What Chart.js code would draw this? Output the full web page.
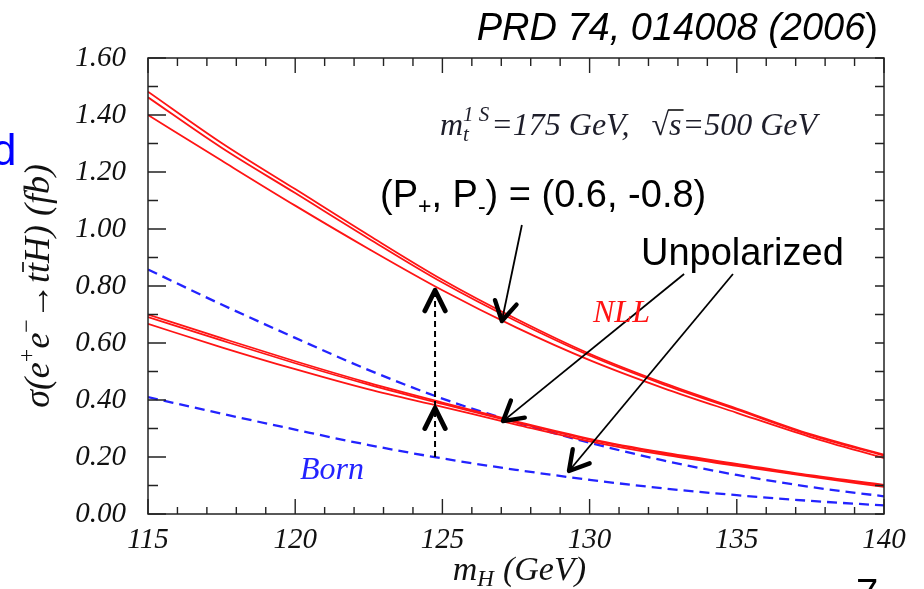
<!DOCTYPE html>
<html><head><meta charset="utf-8">
<script src="https://cdn.jsdelivr.net/npm/chart.js@4.4.1/dist/chart.umd.min.js"></script>
<style>html,body{margin:0;padding:0;background:#fff;overflow:hidden}#wrap{width:924px;height:589px;position:relative}</style>
</head><body><div id="wrap"><canvas id="c" width="924" height="589"></canvas></div>
<script>
// Higgs mass (GeV)
const massH = [115, 117.5, 120, 122.5, 125, 127.5, 130, 132.5, 135, 137.5, 140];
// NLL, polarized beams (P+,P-)=(0.6,-0.8): three curves (fb)
const nllPolA = [1.482, 1.302, 1.140, 0.978, 0.822, 0.685, 0.562, 0.460, 0.370, 0.280, 0.208];
const nllPolB = [1.462, 1.285, 1.126, 0.966, 0.812, 0.677, 0.556, 0.455, 0.366, 0.277, 0.205];
const nllPolC = [1.400, 1.240, 1.082, 0.930, 0.785, 0.655, 0.540, 0.442, 0.355, 0.270, 0.196];
// NLL, unpolarized: three curves (fb)
const nllUnpA = [0.700, 0.617, 0.536, 0.460, 0.391, 0.325, 0.264, 0.216, 0.176, 0.136, 0.102];
const nllUnpB = [0.691, 0.609, 0.529, 0.454, 0.386, 0.321, 0.261, 0.213, 0.173, 0.134, 0.100];
const nllUnpC = [0.667, 0.585, 0.508, 0.437, 0.376, 0.314, 0.255, 0.208, 0.169, 0.131, 0.095];
// Born, polarized and unpolarized (fb)
const bornPol = [0.858, 0.735, 0.618, 0.505, 0.405, 0.322, 0.250, 0.188, 0.137, 0.095, 0.062];
const bornUnp = [0.410, 0.352, 0.296, 0.242, 0.195, 0.155, 0.120, 0.090, 0.066, 0.046, 0.030];
// axis ticks
const xTickStep = 5, xMinorStep = 1, yTickStep = 0.2, yMinorStep = 0.1;

// annotation anchor points (data units)
const arrowsData = [
  {from: [127.70, 1.014], to: [127.02, 0.677]},
  {from: [133.21, 0.842], to: [127.06, 0.326]},
  {from: [134.87, 0.842], to: [129.30, 0.151]}
];
const shiftArrow = {m: 124.75, from: 0.20, mid: 0.372, to: 0.785};

const RED = '#ff1414', BLUE = '#2323ff';
const SERIF = "'Liberation Serif', 'Times New Roman', serif";
const SANS = "'Liberation Sans', Arial, sans-serif";

function pts(arr) { return massH.map((m, i) => ({x: m, y: arr[i]})); }
function redSet(label, arr) { return {label, data: pts(arr), borderColor: RED, borderWidth: 1.8, fill: false}; }
function blueSet(label, arr) { return {label, data: pts(arr), borderColor: BLUE, borderWidth: 2.3, borderDash: [10, 6], fill: false}; }

function drawRich(ctx, x, y, parts, align) {
  let total = 0;
  parts.forEach(p => { ctx.font = p.font; p.w = ctx.measureText(p.t).width; total += p.w + (p.gap || 0); });
  let cx = align === 'center' ? x - total / 2 : (align === 'right' ? x - total : x);
  parts.forEach(p => {
    ctx.font = p.font;
    ctx.fillStyle = p.color || ctx.fillStyle;
    ctx.fillText(p.t, cx, y + (p.dy || 0));
    if (p.over) {
      ctx.save();
      ctx.strokeStyle = p.color || '#000';
      ctx.lineWidth = p.overW || 1.3;
      ctx.beginPath();
      ctx.moveTo(cx + (p.overX0 || 0), y + (p.dy || 0) - p.over);
      ctx.lineTo(cx + p.w + (p.overX1 || 0), y + (p.dy || 0) - p.over);
      ctx.stroke();
      ctx.restore();
    }
    cx += p.w + (p.gap || 0);
  });
}

function arrowHead(ctx, tx, ty, fx, fy, len, half, w) {
  const ang = Math.atan2(fy - ty, fx - tx);
  ctx.save();
  ctx.lineWidth = w; ctx.lineCap = 'round'; ctx.lineJoin = 'round';
  ctx.setLineDash([]);
  ctx.beginPath();
  ctx.moveTo(tx + len * Math.cos(ang - half), ty + len * Math.sin(ang - half));
  ctx.lineTo(tx, ty);
  ctx.lineTo(tx + len * Math.cos(ang + half), ty + len * Math.sin(ang + half));
  ctx.stroke();
  ctx.restore();
}

const decor = {
  id: 'decor',
  afterDatasetsDraw(chart) {
    const ctx = chart.ctx, a = chart.chartArea, xs = chart.scales.x, ys = chart.scales.y;
    ctx.save();
    // frame
    ctx.strokeStyle = '#222'; ctx.lineWidth = 1.5;
    ctx.strokeRect(a.left, a.top, a.right - a.left, a.bottom - a.top);
    // ticks (inward)
    ctx.lineWidth = 1.4;
    ctx.beginPath();
    for (let v = xs.min; v <= xs.max + 1e-9; v += xMinorStep) {
      const px = xs.getPixelForValue(v);
      const major = Math.abs(v / xTickStep - Math.round(v / xTickStep)) < 1e-6;
      ctx.moveTo(px, a.bottom); ctx.lineTo(px, a.bottom - (major ? 15 : 7));
      ctx.moveTo(px, a.top); ctx.lineTo(px, a.top + (major ? 15 : 8));
    }
    for (let v = ys.min; v <= ys.max + 1e-9; v += yMinorStep) {
      const py = ys.getPixelForValue(v);
      const major = Math.abs(v / yTickStep - Math.round(v / yTickStep)) < 1e-6;
      ctx.moveTo(a.left, py); ctx.lineTo(a.left + (major ? 18 : 10), py);
      ctx.moveTo(a.right, py); ctx.lineTo(a.right - 9, py);
    }
    ctx.stroke();

    // arrows
    ctx.strokeStyle = '#000'; ctx.fillStyle = '#000';
    arrowsData.forEach(ar => {
      const x1 = xs.getPixelForValue(ar.from[0]), y1 = ys.getPixelForValue(ar.from[1]);
      const x2 = xs.getPixelForValue(ar.to[0]), y2 = ys.getPixelForValue(ar.to[1]);
      ctx.lineWidth = 1.8; ctx.setLineDash([]);
      ctx.beginPath(); ctx.moveTo(x1, y1); ctx.lineTo(x2, y2); ctx.stroke();
      arrowHead(ctx, x2, y2, x1, y1, 22, Math.PI / 6, 4.4);
    });
    // dashed shift arrow
    const sx = xs.getPixelForValue(shiftArrow.m);
    const yb = ys.getPixelForValue(shiftArrow.from), ym = ys.getPixelForValue(shiftArrow.mid), yt = ys.getPixelForValue(shiftArrow.to);
    ctx.lineWidth = 2; ctx.setLineDash([6, 4]);
    ctx.beginPath(); ctx.moveTo(sx, yb); ctx.lineTo(sx, yt + 2); ctx.stroke();
    ctx.setLineDash([]);
    arrowHead(ctx, sx, ym, sx, ym + 50, 23, 0.46, 4.8);
    arrowHead(ctx, sx, yt, sx, yt + 50, 23, 0.46, 4.8);

    // texts
    ctx.textBaseline = 'alphabetic'; ctx.textAlign = 'left';
    // header
    ctx.fillStyle = '#000';
    drawRich(ctx, 878, 40, [
      {t: 'PRD 74, 014008 (2006', font: 'italic 38px ' + SANS},
      {t: ')', font: '38px ' + SANS}
    ], 'right');
    // partial blue word at left edge
    ctx.fillStyle = '#0000ff'; ctx.font = '44px ' + SANS;
    ctx.fillText('d', -8, 165);
    // page number
    ctx.fillStyle = '#000'; ctx.font = '40px ' + SANS;
    ctx.fillText('7', 856, 607);
    // physics parameters
    ctx.fillStyle = '#1e1e2a';
    drawRich(ctx, 440, 135, [
      {t: 'm', font: 'italic 32px ' + SERIF},
      {t: 't', font: 'italic 21px ' + SERIF, dy: 6, gap: -6},
      {t: '1 S', font: 'italic 21px ' + SERIF, dy: -14, gap: 2},
      {t: '=175 GeV,  ', font: 'italic 32px ' + SERIF, gap: 6},
      {t: '√', font: '32px ' + SERIF},
      {t: 's', font: 'italic 32px ' + SERIF, over: 25, overX0: -1, overX1: 2, overW: 1.5, gap: 1},
      {t: '=500 GeV', font: 'italic 32px ' + SERIF}
    ], 'left');
    // polarization label
    ctx.fillStyle = '#000';
    drawRich(ctx, 380, 207, [
      {t: '(P', font: '38px ' + SANS},
      {t: '+', font: '23px ' + SANS, dy: 7},
      {t: ', P', font: '38px ' + SANS},
      {t: '-', font: '23px ' + SANS, dy: 7},
      {t: ') = (0.6, -0.8)', font: '38px ' + SANS}
    ], 'left');
    ctx.font = '38px ' + SANS;
    ctx.fillText('Unpolarized', 641, 265);
    // curve labels
    ctx.fillStyle = RED; ctx.font = 'italic 32px ' + SERIF;
    ctx.fillText('NLL', 593, 322);
    ctx.fillStyle = BLUE; ctx.font = 'italic 32px ' + SERIF;
    ctx.fillText('Born', 300, 479);

    // x axis title
    ctx.fillStyle = '#111';
    drawRich(ctx, 586, 580, [
      {t: 'm', font: 'italic 34px ' + SERIF},
      {t: 'H', font: 'italic 23px ' + SERIF, dy: 6, gap: 9},
      {t: '(GeV)', font: 'italic 34px ' + SERIF}
    ], 'right');
    // y axis title
    ctx.save();
    ctx.translate(49, 286); ctx.rotate(-Math.PI / 2);
    drawRich(ctx, 0, 0, [
      {t: 'σ(e', font: 'italic 36px ' + SERIF},
      {t: '+', font: '24px ' + SERIF, dy: -15},
      {t: 'e', font: 'italic 36px ' + SERIF},
      {t: '−', font: '24px ' + SERIF, dy: -15},
      {t: '→', font: '36px ' + SERIF},
      {t: 't', font: 'italic 36px ' + SERIF},
      {t: 't', font: 'italic 36px ' + SERIF, over: 26, overX0: 1, overX1: 1, overW: 1.6},
      {t: 'H) (', font: 'italic 36px ' + SERIF},
      {t: 'fb', font: 'italic 36px ' + SERIF},
      {t: ')', font: 'italic 36px ' + SERIF}
    ], 'center');
    ctx.restore();
    ctx.restore();
  }
};

const tickFont = {family: SERIF, style: 'italic', size: 29};
new Chart(document.getElementById('c').getContext('2d'), {
  type: 'line',
  data: {
    datasets: [
      redSet('NLL pol 1', nllPolA), redSet('NLL pol 2', nllPolB), redSet('NLL pol 3', nllPolC),
      redSet('NLL unpol 1', nllUnpA), redSet('NLL unpol 2', nllUnpB), redSet('NLL unpol 3', nllUnpC),
      blueSet('Born pol', bornPol), blueSet('Born unpol', bornUnp)
    ]
  },
  options: {
    responsive: false, animation: false, devicePixelRatio: 1,
    layout: {padding: {top: 58, right: 40, left: 0, bottom: 0}},
    plugins: {legend: {display: false}, title: {display: false}, tooltip: {enabled: false}},
    elements: {point: {radius: 0}, line: {cubicInterpolationMode: 'monotone'}},
    scales: {
      x: {
        type: 'linear', min: 115, max: 140,
        afterFit(s) { s.height = 75; },
        ticks: {stepSize: xTickStep, autoSkip: false, maxRotation: 0, padding: 9, font: tickFont, color: '#111',
          callback: v => String(v)},
        grid: {display: false, drawTicks: false, tickLength: 0}, border: {display: false}
      },
      y: {
        min: 0, max: 1.6,
        afterFit(s) { s.width = 148; },
        ticks: {stepSize: yTickStep, padding: 22, font: tickFont, color: '#111',
          callback: v => v.toFixed(2)},
        grid: {display: false, drawTicks: false, tickLength: 0}, border: {display: false}
      }
    }
  },
  plugins: [decor]
});
</script></body></html>
